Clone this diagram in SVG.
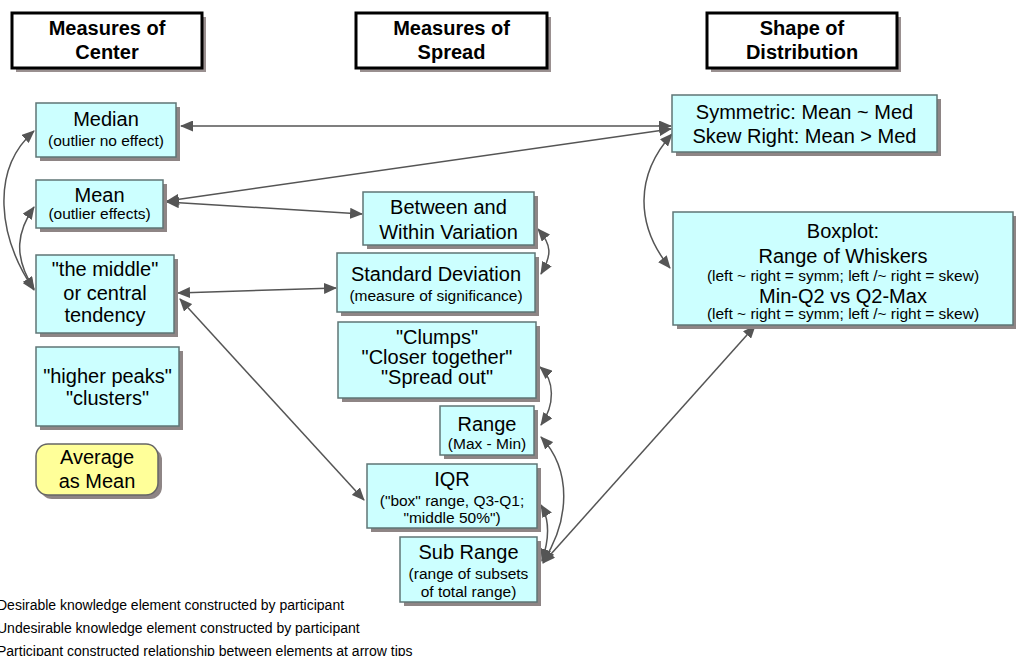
<svg xmlns="http://www.w3.org/2000/svg" width="1016" height="656" viewBox="0 0 1016 656">
<style>
text{font-family:"Liberation Sans",Arial,sans-serif;fill:#000;text-anchor:middle}
.h{font-size:20px;font-weight:bold}
.m{font-size:20px}
.s{font-size:15.5px}
.lg{font-size:14px;text-anchor:start}
.hb{fill:#fff;stroke:#000;stroke-width:3}
.hs{fill:#9a9090}
.nb{fill:#ccffff;stroke:#5f7676;stroke-width:1.5}
.ns{fill:#8e8585}
.yb{fill:#ffff99;stroke:#666;stroke-width:1.5}
.c{fill:none;stroke:#555;stroke-width:1.5;marker-start:url(#ah);marker-end:url(#ah)}
</style>
<defs>
<marker id="ah" viewBox="0 0 13 11" refX="12" refY="5.5" markerWidth="13" markerHeight="11" markerUnits="userSpaceOnUse" orient="auto-start-reverse"><path d="M0,0 L13,5.5 L0,11 z" fill="#555"/></marker>
</defs>
<rect width="1016" height="656" fill="#fff"/>

<g id="connectors">
<path class="c" d="M181,126 L671,126"/>
<path class="c" d="M167,201 L671,129"/>
<path class="c" d="M167,202 L362,214"/>
<path class="c" d="M672,134 C635,175 635,225 670,268"/>
<path class="c" d="M34,131 C-10,170 -2,237 34,290"/>
<path class="c" d="M34,207 C18,230 12,255 34,289"/>
<path class="c" d="M178,293 L336,288"/>
<path class="c" d="M180,299 L364,500"/>
<path class="c" d="M538,229 C552,245 552,255 541,274"/>
<path class="c" d="M540,367 C555,380 555,405 541,425"/>
<path class="c" d="M541,437 C572,470 570,520 543,562"/>
<path class="c" d="M541,505 C550,520 549,540 542,561"/>
<path class="c" d="M543,563 L755,326"/>
</g>

<g id="h-center">
<rect class="hs" x="16" y="17" width="190" height="55"/>
<rect class="hb" x="12" y="13" width="190" height="55"/>
<text class="h" x="107" y="35">Measures of</text>
<text class="h" x="107" y="59">Center</text>
</g>
<g id="h-spread">
<rect class="hs" x="360" y="17" width="191" height="55"/>
<rect class="hb" x="356" y="13" width="191" height="55"/>
<text class="h" x="451.5" y="35">Measures of</text>
<text class="h" x="451.5" y="59">Spread</text>
</g>
<g id="h-shape">
<rect class="hs" x="711" y="17" width="190" height="55"/>
<rect class="hb" x="707" y="13" width="190" height="55"/>
<text class="h" x="802" y="35">Shape of</text>
<text class="h" x="802" y="59">Distribution</text>
</g>

<g id="n-median">
<rect class="ns" x="40" y="107" width="140" height="54"/>
<rect class="nb" x="36" y="103" width="140" height="54"/>
<text class="m" x="106" y="126">Median</text>
<text class="s" x="106" y="146">(outlier no effect)</text>
</g>
<g id="n-mean">
<rect class="ns" x="40" y="184" width="127" height="48"/>
<rect class="nb" x="36" y="180" width="127" height="48"/>
<text class="m" x="99.5" y="202">Mean</text>
<text class="s" x="99.5" y="219">(outlier effects)</text>
</g>
<g id="n-middle">
<rect class="ns" x="40" y="259" width="138" height="78"/>
<rect class="nb" x="36" y="255" width="138" height="78"/>
<text class="m" x="105" y="276">"the middle"</text>
<text class="m" x="105" y="300">or central</text>
<text class="m" x="105" y="322">tendency</text>
</g>
<g id="n-peaks">
<rect class="ns" x="40" y="351" width="143" height="79"/>
<rect class="nb" x="36" y="347" width="143" height="79"/>
<text class="m" x="107.5" y="383">"higher peaks"</text>
<text class="m" x="107.5" y="405">"clusters"</text>
</g>
<g id="n-average">
<rect class="ns" x="40" y="448" width="122" height="51" rx="12"/>
<rect class="yb" x="36" y="444" width="122" height="51" rx="12"/>
<text class="m" x="97" y="464">Average</text>
<text class="m" x="97" y="488">as Mean</text>
</g>

<g id="n-between">
<rect class="ns" x="367" y="196" width="171" height="53"/>
<rect class="nb" x="363" y="192" width="171" height="53"/>
<text class="m" x="448.5" y="214">Between and</text>
<text class="m" x="448.5" y="239">Within Variation</text>
</g>
<g id="n-sd">
<rect class="ns" x="341" y="257" width="198" height="59"/>
<rect class="nb" x="337" y="253" width="198" height="59"/>
<text class="m" x="436" y="281">Standard Deviation</text>
<text class="s" x="436" y="301">(measure of significance)</text>
</g>
<g id="n-clumps">
<rect class="ns" x="342" y="326" width="198" height="76"/>
<rect class="nb" x="338" y="322" width="198" height="76"/>
<text class="m" x="437" y="344">"Clumps"</text>
<text class="m" x="437" y="364">"Closer together"</text>
<text class="m" x="437" y="384">"Spread out"</text>
</g>
<g id="n-range">
<rect class="ns" x="444" y="410" width="94" height="49"/>
<rect class="nb" x="440" y="406" width="94" height="49"/>
<text class="m" x="487" y="431">Range</text>
<text class="s" x="487" y="449">(Max - Min)</text>
</g>
<g id="n-iqr">
<rect class="ns" x="371" y="468" width="170" height="64"/>
<rect class="nb" x="367" y="464" width="170" height="64"/>
<text class="m" x="452" y="486">IQR</text>
<text class="s" x="452" y="506">("box" range, Q3-Q1;</text>
<text class="s" x="452" y="523">"middle 50%")</text>
</g>
<g id="n-subrange">
<rect class="ns" x="404" y="541" width="137" height="65"/>
<rect class="nb" x="400" y="537" width="137" height="65"/>
<text class="m" x="468.5" y="559">Sub Range</text>
<text class="s" x="468.5" y="579">(range of subsets</text>
<text class="s" x="468.5" y="597">of total range)</text>
</g>

<g id="n-symmetric">
<rect class="ns" x="676" y="99" width="265" height="57"/>
<rect class="nb" x="672" y="95" width="265" height="57"/>
<text class="m" x="804.5" y="119">Symmetric: Mean ~ Med</text>
<text class="m" x="804.5" y="143">Skew Right: Mean &gt; Med</text>
</g>
<g id="n-boxplot">
<rect class="ns" x="677" y="216" width="340" height="113"/>
<rect class="nb" x="673" y="212" width="340" height="113"/>
<text class="m" x="843" y="238">Boxplot:</text>
<text class="m" x="843" y="263">Range of Whiskers</text>
<text class="s" x="843" y="281">(left ~ right = symm; left /~ right = skew)</text>
<text class="m" x="843" y="303">Min-Q2 vs Q2-Max</text>
<text class="s" x="843" y="319">(left ~ right = symm; left /~ right = skew)</text>
</g>

<g id="legend">
<text class="lg" x="-3" y="610">Desirable knowledge element constructed by participant</text>
<text class="lg" x="-3" y="633">Undesirable knowledge element constructed by participant</text>
<text class="lg" x="-3" y="656">Participant constructed relationship between elements at arrow tips</text>
</g>
</svg>
